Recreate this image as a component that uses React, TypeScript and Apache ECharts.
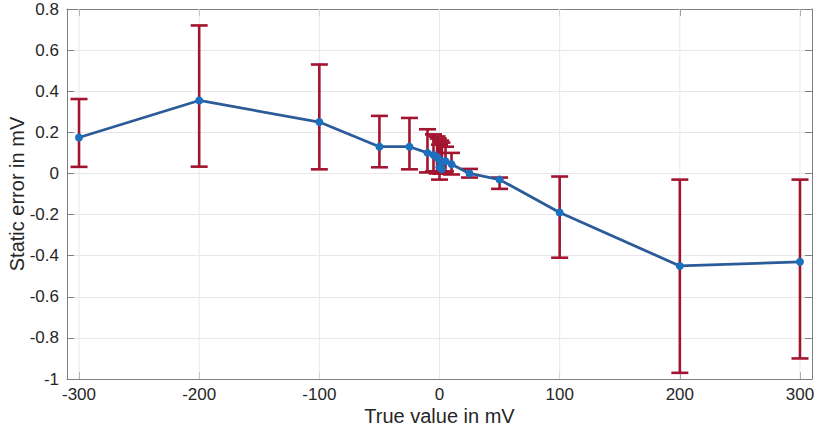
import React, { useEffect, useRef } from "react";
import * as echarts from "echarts";

// True input values (mV) and measured static error statistics (mV)
const trueValues = [-300, -200, -100, -50, -25, -10, -5, -2, -1, 0, 1, 2, 5, 10, 25, 50, 100, 200, 300];
const meanErrors = [0.175, 0.355, 0.25, 0.13, 0.13, 0.1, 0.09, 0.08, 0.07, 0.03, 0.06, 0.02, 0.06, 0.045, 0.0, -0.03, -0.19, -0.45, -0.43];
const lowerBounds = [0.032, 0.033, 0.02, 0.03, 0.02, 0.005, 0.01, 0.0, 0.01, -0.03, 0.0, 0.0, 0.01, -0.005, -0.02, -0.075, -0.41, -0.97, -0.9];
const upperBounds = [0.362, 0.72, 0.53, 0.28, 0.27, 0.215, 0.19, 0.18, 0.17, 0.14, 0.16, 0.15, 0.13, 0.1, 0.022, -0.02, -0.015, -0.03, -0.03];
const xTicks = [-300, -200, -100, 0, 100, 200, 300];

const FONT = "'Liberation Sans', Arial, Helvetica, sans-serif";
const TEXT = "#262626";
const AXIS = "#7f7f7f";
const GRID = "#e8e8e8";
const BAR = "#A2142F";

export default function App() {
  const ref = useRef<HTMLDivElement>(null);

  useEffect(() => {
    document.body.style.margin = "0";
    if (!ref.current) return;
    const chart = echarts.init(ref.current, null, { renderer: "svg" });

    const errData = trueValues.map((x, i) => [x, lowerBounds[i], upperBounds[i]]);
    const lineData = trueValues.map((x, i) => [x, meanErrors[i]]);

    const axisLine = { show: true, onZero: false, lineStyle: { color: AXIS, width: 1 } };
    const tick = { show: true, inside: true, length: 7, lineStyle: { color: AXIS } };

    chart.setOption({
      animation: false,
      backgroundColor: "#ffffff",
      grid: { left: 67, top: 9, width: 745, height: 370, containLabel: false, outerBoundsMode: "none" },
      xAxis: [
        {
          type: "value",
          min: -310,
          max: 310,
          axisLine,
          axisTick: { ...tick, customValues: xTicks },
          axisLabel: { color: TEXT, fontFamily: FONT, fontSize: 17, margin: 7, customValues: xTicks },
          splitLine: { show: false },
          name: "True value in mV",
          nameLocation: "middle",
          nameGap: 27,
          nameMoveOverlap: false,
          nameTextStyle: { color: TEXT, fontFamily: FONT, fontSize: 20 },
        },
        {
          type: "value",
          position: "top",
          min: -310,
          max: 310,
          axisLine,
          axisTick: { ...tick, customValues: xTicks },
          axisLabel: { show: false },
          splitLine: { show: false },
        },
      ],
      yAxis: [
        {
          type: "value",
          min: -1,
          max: 0.8,
          interval: 0.2,
          axisLine,
          axisTick: tick,
          axisLabel: {
            color: TEXT,
            fontFamily: FONT,
            fontSize: 17,
            margin: 8,
            formatter: (v: number) => String(Math.round(v * 10) / 10),
          },
          splitLine: { show: true, lineStyle: { color: GRID, width: 1 } },
          name: "Static error in mV",
          nameLocation: "middle",
          nameGap: 40,
          nameMoveOverlap: false,
          nameTextStyle: { color: TEXT, fontFamily: FONT, fontSize: 20 },
        },
        {
          type: "value",
          position: "right",
          min: -1,
          max: 0.8,
          interval: 0.2,
          axisLine,
          axisTick: tick,
          axisLabel: { show: false },
          splitLine: { show: false },
        },
      ],
      series: [
        {
          // vertical grid lines at the labelled x ticks
          type: "custom",
          xAxisIndex: 0,
          yAxisIndex: 0,
          silent: true,
          z: 1,
          data: xTicks.map((v) => [v]),
          renderItem: (params: any, api: any) => {
            const top = api.coord([api.value(0), 0.8]);
            const bot = api.coord([api.value(0), -1]);
            return {
              type: "line",
              shape: { x1: top[0], y1: top[1], x2: bot[0], y2: bot[1] },
              style: { stroke: GRID, lineWidth: 1 },
            };
          },
        },
        {
          // error bars with caps
          type: "custom",
          name: "error",
          xAxisIndex: 0,
          yAxisIndex: 0,
          z: 3,
          data: errData,
          renderItem: (params: any, api: any) => {
            const x = api.value(0);
            const lo = api.coord([x, api.value(1)]);
            const hi = api.coord([x, api.value(2)]);
            const half = 8.5;
            const style = { stroke: BAR, lineWidth: 2.6 };
            return {
              type: "group",
              children: [
                { type: "line", shape: { x1: lo[0], y1: lo[1], x2: hi[0], y2: hi[1] }, style },
                { type: "line", shape: { x1: hi[0] - half, y1: hi[1], x2: hi[0] + half, y2: hi[1] }, style },
                { type: "line", shape: { x1: lo[0] - half, y1: lo[1], x2: lo[0] + half, y2: lo[1] }, style },
              ],
            };
          },
        },
        {
          type: "line",
          name: "mean",
          xAxisIndex: 0,
          yAxisIndex: 0,
          z: 5,
          data: lineData,
          symbol: "circle",
          symbolSize: 8,
          lineStyle: { color: "#2c5b9a", width: 2.8 },
          itemStyle: { color: "#1d70bd", borderWidth: 0 },
        },
      ],
    });

    return () => chart.dispose();
  }, []);

  return <div ref={ref} style={{ width: 815, height: 433 }} />;
}
